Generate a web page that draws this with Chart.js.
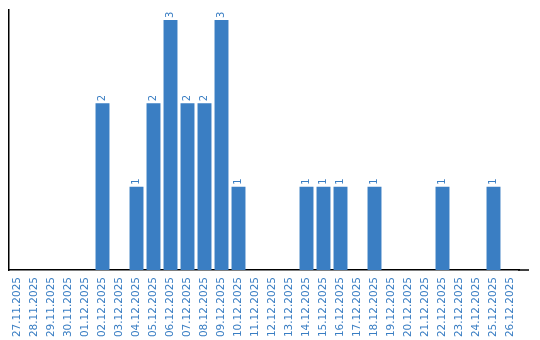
<!DOCTYPE html>
<html>
<head>
<meta charset="utf-8">
<script src="https://cdn.jsdelivr.net/npm/chart.js@4/dist/chart.umd.min.js"></script>
<style>
  html, body { margin: 0; padding: 0; background: #fff; }
  #wrap { width: 540px; height: 340px; }
</style>
</head>
<body>
<div id="wrap"><canvas id="chart"></canvas></div>
<script>
const days = [
  '27.11.2025', '28.11.2025', '29.11.2025', '30.11.2025', '01.12.2025',
  '02.12.2025', '03.12.2025', '04.12.2025', '05.12.2025', '06.12.2025',
  '07.12.2025', '08.12.2025', '09.12.2025', '10.12.2025', '11.12.2025',
  '12.12.2025', '13.12.2025', '14.12.2025', '15.12.2025', '16.12.2025',
  '17.12.2025', '18.12.2025', '19.12.2025', '20.12.2025', '21.12.2025',
  '22.12.2025', '23.12.2025', '24.12.2025', '25.12.2025', '26.12.2025'
];
const counts = [
  0, 0, 0, 0, 0,
  2, 0, 1, 2, 3,
  2, 2, 3, 1, 0,
  0, 0, 1, 1, 1,
  0, 1, 0, 0, 0,
  1, 0, 0, 1, 0
];

const blue = '#3a7ec3';

// value labels drawn rotated above each bar, plus the x axis line running a bit past the last category
const barLabels = {
  id: 'barLabels',
  afterDatasetsDraw(chart) {
    const ctx = chart.ctx;
    const meta = chart.getDatasetMeta(0);
    ctx.save();
    ctx.fillStyle = blue;
    ctx.font = '10px "DejaVu Sans"';
    ctx.textAlign = 'left';
    ctx.textBaseline = 'middle';
    meta.data.forEach((bar, i) => {
      if (!counts[i]) return;
      ctx.save();
      ctx.translate(bar.x, bar.y - 2);
      ctx.rotate(-Math.PI / 2);
      ctx.fillText(String(counts[i]), 0, 0);
      ctx.restore();
    });
    const area = chart.chartArea;
    ctx.strokeStyle = '#000';
    ctx.lineWidth = 1.5;
    ctx.beginPath();
    ctx.moveTo(area.right - 1, area.bottom);
    ctx.lineTo(area.right + 10, area.bottom);
    ctx.stroke();
    ctx.restore();
  }
};

new Chart(document.getElementById('chart'), {
  type: 'bar',
  data: {
    labels: days,
    datasets: [{
      data: counts,
      backgroundColor: blue,
      categoryPercentage: 1,
      barPercentage: 0.82
    }]
  },
  options: {
    responsive: true,
    maintainAspectRatio: false,
    animation: false,
    layout: { padding: { left: 9, right: 21, top: 10, bottom: 0 } },
    scales: {
      x: {
        afterFit(scale) { scale.height = 70; },
        grid: { display: false, drawTicks: false },
        border: { color: '#000', width: 1.5 },
        ticks: {
          color: blue,
          font: { family: 'DejaVu Sans', size: 10.5 },
          minRotation: 90,
          maxRotation: 90,
          autoSkip: false,
          padding: 7
        }
      },
      y: {
        min: 0,
        max: 3.12,
        grid: { display: false, drawTicks: false },
        border: { color: '#000', width: 1.5 },
        ticks: { display: false }
      }
    },
    plugins: {
      legend: { display: false },
      tooltip: { enabled: false }
    }
  },
  plugins: [barLabels]
});
</script>
</body>
</html>
